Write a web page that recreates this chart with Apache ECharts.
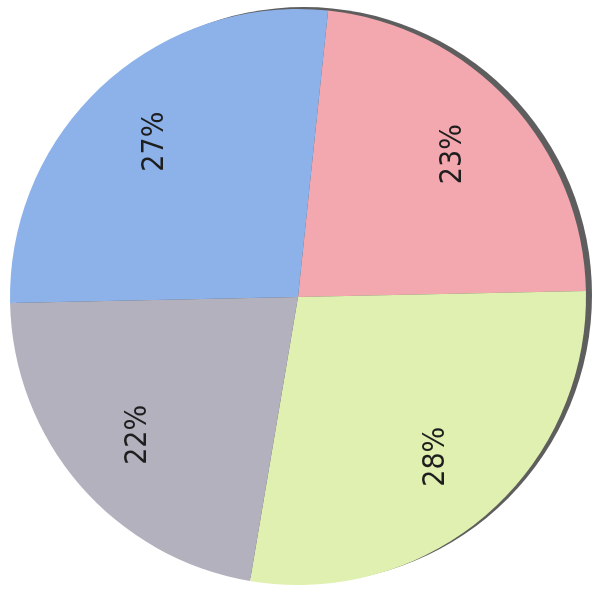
<!DOCTYPE html>
<html>
<head>
<meta charset="utf-8">
<script src="https://cdn.jsdelivr.net/npm/echarts@6/dist/echarts.min.js"></script>
<style>
html,body{margin:0;padding:0;background:#fff;}
#chart{width:595px;height:606px;}
</style>
</head>
<body>
<div id="chart"></div>
<script>
// Data (clockwise from top)
const categories = ['A', 'B', 'C', 'D'];
const values = [23, 28, 22, 27];
const labels = ['23%', '28%', '22%', '27%'];
const colors = ['#f3a7ae', '#dff0b0', '#b3b1bd', '#8db2ea'];

const chart = echarts.init(document.getElementById('chart'));
const dataArr = categories.map((c, i) => ({ name: c, value: values[i], itemStyle: { color: colors[i] } }));

chart.setOption({
  backgroundColor: '#ffffff',
  animation: false,
  series: [
    {
      // paper shadow behind the pie
      type: 'pie',
      silent: true,
      center: [304, 295],
      radius: [0, 288],
      label: { show: false },
      labelLine: { show: false },
      itemStyle: { color: '#5e5e5e' },
      data: [{ name: 'shadow', value: 1 }],
      z: 1
    },
    {
      type: 'pie',
      center: [298, 297],
      radius: [0, 288],
      startAngle: 84,
      clockwise: true,
      label: { show: false },
      labelLine: { show: false },
      itemStyle: { borderWidth: 0 },
      data: dataArr,
      z: 2
    },
    {
      // label carrier ring (transparent)
      type: 'pie',
      silent: true,
      center: [298, 297],
      radius: [128, 288],
      startAngle: 84,
      clockwise: true,
      itemStyle: { color: 'rgba(0,0,0,0)' },
      labelLine: { show: false },
      label: {
        show: true,
        position: 'inside',
        rotate: 90,
        fontFamily: 'DejaVu Sans Condensed',
        fontSize: 30,
        color: '#1e1e1e',
        formatter: p => labels[p.dataIndex]
      },
      data: categories.map((c, i) => ({ name: c, value: values[i] })),
      z: 3
    }
  ]
});
</script>
</body>
</html>
